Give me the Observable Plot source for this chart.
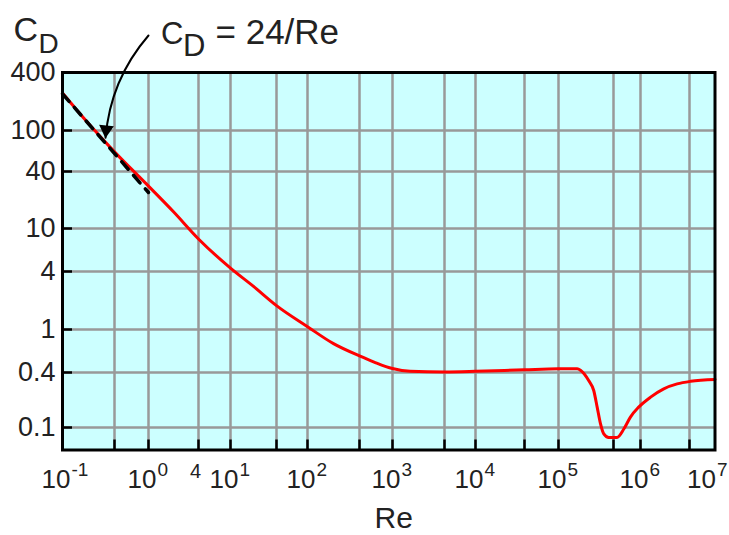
<!DOCTYPE html>
<html>
<head>
<meta charset="utf-8">
<script src="https://cdn.jsdelivr.net/npm/d3@7"></script>
<script src="https://cdn.jsdelivr.net/npm/@observablehq/plot@0.6"></script>
<style>
  body { margin: 0; background: #ffffff; }
  #chart svg { display: block; }
</style>
</head>
<body>
<div id="chart"></div>
<script>
// Drag coefficient of a sphere versus Reynolds number
const reynolds = [0.1, 0.2, 0.4, 1, 2, 4, 10, 20, 40, 100, 200, 400, 600, 1000, 1600, 4000,
  1e4, 4e4, 1e5, 1.6e5, 1.74e5, 2.14e5, 2.43e5, 2.65e5, 2.88e5, 3.13e5, 3.55e5, 4.5e5,
  5.7e5, 7.1e5, 9.4e5, 1.33e6, 1.93e6, 2.82e6, 4.15e6, 1e7];
const dragCoef = [245, 118, 62, 28, 15, 8.0, 4.3, 2.8, 1.77, 1.07, 0.74, 0.57, 0.50, 0.435, 0.41, 0.405,
  0.41, 0.424, 0.433, 0.433, 0.42, 0.327, 0.254, 0.167, 0.11, 0.086, 0.079, 0.079,
  0.097, 0.13, 0.167, 0.215, 0.265, 0.30, 0.32, 0.335];

// Stokes law CD = 24/Re over the creeping-flow range
const stokesRe = [0.1, 1];
const stokesCd = [240, 24];

// Axis ticks and grid
const xDecades = [0.1, 1, 10, 100, 1e3, 1e4, 1e5, 1e6];
const xExponents = ["-1", "0", "1", "2", "3", "4", "5", "6"];
const xLastDecade = [1e7];
const xLastExponent = ["7"];
const xExtraTick = [4];
const xExtraLabel = ["4"];
const xGrid = [0.4, 1, 4, 10, 40, 100, 400, 1e3, 4e3, 1e4, 4e4, 1e5, 4e5, 1e6, 4e6];
const yTicks = [0.1, 0.4, 1, 4, 10, 40, 100, 400];
const yTickLabels = ["0.1", "0.4", "1", "4", "10", "40", "100", "400"];
const yGrid = [0.1, 0.4, 1, 4, 10, 40, 100];

// Annotation arrow pointing at the Stokes line
const arrowFromRe = [1];
const arrowFromCd = [968];
const arrowToRe = [0.315];
const arrowToCd = [85];

const curve = reynolds.map((re, i) => ({re, cd: dragCoef[i]}));
const stokes = stokesRe.map((re, i) => ({re, cd: stokesCd[i]}));
const arrow = arrowFromRe.map((_, i) => ({
  re1: arrowFromRe[i], cd1: arrowFromCd[i], re2: arrowToRe[i], cd2: arrowToCd[i]
}));

const ink = "#222222";
const W = 729, H = 535;
const mL = 62, mR = 14.5, mT = 72, mB = 85.5;
const frameW = W - mL - mR, frameH = H - mT - mB;

const chart = Plot.plot({
  width: W,
  height: H,
  marginLeft: mL,
  marginRight: mR,
  marginTop: mT,
  marginBottom: mB,
  style: {fontFamily: "'Liberation Sans', Arial, sans-serif", background: "#ffffff", overflow: "visible"},
  x: {
    type: "log",
    axis: null,
    domain: [0.1, 0.4, 1, 4, 10, 40, 100, 400, 1e3, 4e3, 1e4, 4e4, 1e5, 4e5, 1e6, 4e6, 1e7],
    range: [62, 114, 148, 198, 230, 276, 307, 359, 392, 444, 475, 524, 558, 613, 640, 689, 714.5]
  },
  y: {
    type: "log",
    axis: null,
    domain: [0.059, 0.1, 0.4, 1, 4, 10, 40, 100, 400],
    range: [449.5, 427, 372, 329, 271, 228, 171, 130, 72]
  },
  marks: [
    Plot.frame({fill: "#ccffff", stroke: "none"}),
    Plot.ruleX(xGrid, {x: d => d, stroke: "#999999", strokeWidth: 2.5}),
    Plot.ruleY(yGrid, {y: d => d, stroke: "#999999", strokeWidth: 2.5}),
    Plot.line(curve, {x: "re", y: "cd", stroke: "#ff0000", strokeWidth: 3, curve: "monotone-x"}),
    Plot.line(stokes, {x: "re", y: "cd", stroke: "#000000", strokeWidth: 3.5, strokeDasharray: "10,8"}),
    // short inner tick marks along the bottom and left edges
    Plot.tickX(xGrid, {x: d => d, stroke: "#000000", strokeWidth: 2.5, insetTop: frameH - 10}),
    Plot.tickY(yTicks, {y: d => d, stroke: "#000000", strokeWidth: 2.5, insetRight: frameW - 10}),
    Plot.frame({stroke: "#000000", strokeWidth: 3}),
    // annotation arrow
    Plot.arrow(arrow, {x1: "re1", y1: "cd1", x2: "re2", y2: "cd2", bend: -18, stroke: "#000000", strokeWidth: 2, headLength: 0}),
    Plot.dot(arrow, {x: "re2", y: "cd2", symbol: "triangle", r: 5.5, fill: "#000000", stroke: "none", rotate: 185, dx: 0.6, dy: -8}),
    // y tick labels
    Plot.text(yTicks, {y: d => d, text: (d, i) => yTickLabels[i], frameAnchor: "left", textAnchor: "end", dx: -7, fontSize: 27, fill: ink}),
    // x tick labels: base 10 with a raised exponent
    Plot.text(xDecades, {x: d => d, text: () => "10", frameAnchor: "bottom", textAnchor: "end", lineAnchor: "bottom", dx: 8, dy: 37.5, fontSize: 26, fill: ink}),
    Plot.text(xDecades, {x: d => d, text: (d, i) => xExponents[i], frameAnchor: "bottom", textAnchor: "start", lineAnchor: "bottom", dx: 9, dy: 25.5, fontSize: 19, fill: ink}),
    Plot.text(xLastDecade, {x: d => d, text: () => "10", frameAnchor: "bottom", textAnchor: "end", lineAnchor: "bottom", dx: 1, dy: 37.5, fontSize: 26, fill: ink}),
    Plot.text(xLastDecade, {x: d => d, text: (d, i) => xLastExponent[i], frameAnchor: "bottom", textAnchor: "start", lineAnchor: "bottom", dx: 2, dy: 25.5, fontSize: 19, fill: ink}),
    Plot.text(xExtraTick, {x: d => d, text: (d, i) => xExtraLabel[i], frameAnchor: "bottom", textAnchor: "middle", lineAnchor: "bottom", dx: -3, dy: 27.5, fontSize: 20, fill: ink}),
    // axis titles
    Plot.text(["Re"], {text: d => d, frameAnchor: "bottom", textAnchor: "middle", lineAnchor: "bottom", dx: 5, dy: 77.5, fontSize: 30, fill: ink}),
    Plot.text(["C"], {text: d => d, frameAnchor: "top-left", textAnchor: "start", lineAnchor: "bottom", dx: -49, dy: -32, fontSize: 34, fill: ink}),
    Plot.text(["D"], {text: d => d, frameAnchor: "top-left", textAnchor: "start", lineAnchor: "bottom", dx: -24, dy: -20, fontSize: 28, fill: ink}),
    // Stokes law label
    Plot.text(["C"], {text: d => d, frameAnchor: "top-left", textAnchor: "start", lineAnchor: "bottom", dx: 98.5, dy: -29, fontSize: 31, fill: ink}),
    Plot.text(["D"], {text: d => d, frameAnchor: "top-left", textAnchor: "start", lineAnchor: "bottom", dx: 120.5, dy: -17, fontSize: 31, fill: ink}),
    Plot.text(["= 24/Re"], {text: d => d, frameAnchor: "top-left", textAnchor: "start", lineAnchor: "bottom", dx: 153, dy: -29, fontSize: 35, fill: ink})
  ]
});

document.getElementById("chart").appendChild(chart);
</script>
</body>
</html>
